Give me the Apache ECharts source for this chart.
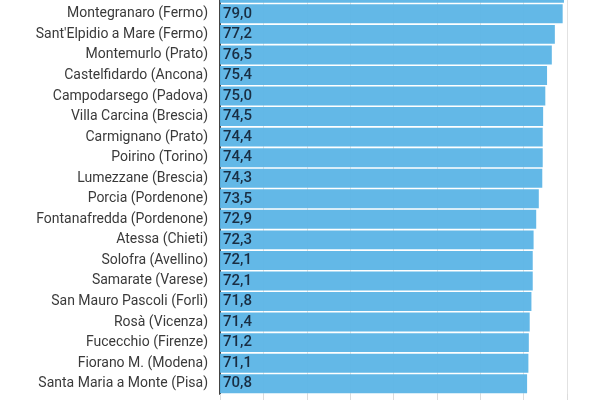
<!DOCTYPE html>
<html>
<head>
<meta charset="utf-8">
<script src="https://cdn.jsdelivr.net/npm/echarts@6/dist/echarts.min.js"></script>
<style>
	html, body { margin: 0; padding: 0; background: #fff; overflow: hidden; }
	/* the reference is a crop: the chart starts above the visible window */
	#bar { width: 600px; height: 417px; margin-top: -17px; }
</style>
</head>
<body>
<div id="bar"></div>
<script>
// comuni (top row is cut off in the picture)
var comuni = [
	'',
	'Montegranaro (Fermo)',
	"Sant'Elpidio a Mare (Fermo)",
	'Montemurlo (Prato)',
	'Castelfidardo (Ancona)',
	'Campodarsego (Padova)',
	'Villa Carcina (Brescia)',
	'Carmignano (Prato)',
	'Poirino (Torino)',
	'Lumezzane (Brescia)',
	'Porcia (Pordenone)',
	'Fontanafredda (Pordenone)',
	'Atessa (Chieti)',
	'Solofra (Avellino)',
	'Samarate (Varese)',
	'San Mauro Pascoli (Forlì)',
	'Rosà (Vicenza)',
	'Fucecchio (Firenze)',
	'Fiorano M. (Modena)',
	'Santa Maria a Monte (Pisa)'
];
var valori = [79.3, 79.0, 77.2, 76.5, 75.4, 75.0, 74.5, 74.4, 74.4, 74.3, 73.5, 72.9, 72.3, 72.1, 72.1, 71.8, 71.4, 71.2, 71.1, 70.8];
var asseMin = 0, asseMax = 80, passo = 10;

var bar = echarts.init(document.getElementById('bar'));
var option = {
	backgroundColor: '#ffffff',
	animation: false,
	textStyle: {
		fontFamily: 'Roboto'
	},
	grid: {
		left: 220,
		right: 33,
		top: 0,
		bottom: 6,
		containLabel: false
	},
	xAxis: {
		type: 'value',
		min: asseMin,
		max: asseMax,
		interval: passo,
		axisLine: {
			show: false
		},
		axisTick: {
			show: true,
			length: 8,
			lineStyle: {
				color: '#dcdcdc'
			}
		},
		axisLabel: {
			show: false
		},
		splitLine: {
			show: true,
			lineStyle: {
				color: '#e2e2e2'
			}
		}
	},
	yAxis: {
		type: 'category',
		data: comuni,
		inverse: true,
		axisTick: {
			show: false
		},
		axisLine: {
			show: true,
			lineStyle: {
				color: '#444',
				width: 2
			}
		},
		axisLabel: {
			color: '#3a3a3a',
			fontSize: 14,
			margin: 12
		}
	},
	series: [{
		type: 'bar',
		data: valori,
		barCategoryGap: '8%',
		itemStyle: {
			color: '#5bb4e6',
			opacity: 0.95
		},
		label: {
			show: true,
			position: 'insideLeft',
			distance: 3,
			color: '#15263a',
			fontSize: 15,
			fontWeight: 500,
			formatter: function (p) {
				return p.value.toFixed(1).replace('.', ',');
			}
		}
	}]
};
bar.setOption(option);
</script>
</body>
</html>
